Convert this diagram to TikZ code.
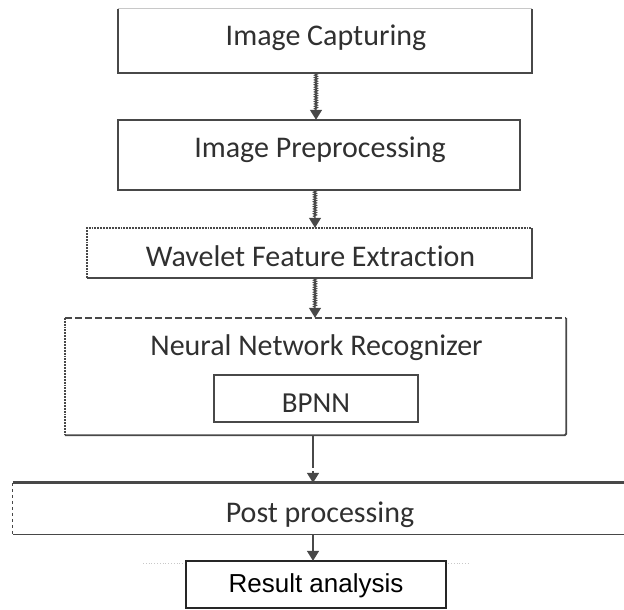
\documentclass[tikz,border=0pt]{standalone}
\usepackage{fontspec}
\setmainfont{Carlito}[Ligatures=CommonOff]
\newfontfamily\arialfont{Liberation Sans}
\usetikzlibrary{arrows.meta,decorations.pathmorphing}

\definecolor{edgegray}{RGB}{72,72,72}
\definecolor{textgray}{RGB}{48,48,48}
\definecolor{faintgray}{RGB}{200,200,200}

\begin{document}
\begin{tikzpicture}[x=1pt,y=-1pt,
  area/.style={draw=none, inner sep=0pt, minimum width=#1},
  frame/.style={draw=edgegray, line width=1.9pt},
  thinframe/.style={draw=edgegray, line width=1.1pt},
  lbl/.style={anchor=base, text=textgray, inner sep=0pt, font=\fontsize{30}{36}\selectfont},
  tipstyle/.style={-{Triangle[width=12pt,length=10pt]}},
  wavyflow/.style={draw=edgegray, line width=1.4pt, tipstyle, decorate,
    decoration={snake, amplitude=1.2pt, segment length=2.4pt, post length=10pt}},
  plainflow/.style={draw=edgegray, line width=1.6pt, tipstyle}
]
\useasboundingbox (0,0) rectangle (624,610);
\coordinate (axis) at (315,0);

% block outlines (positioned by centre, sized by width/height)
\node[area=414pt, minimum height=64pt] (cap) at (325,41) {};
\node[area=402pt, minimum height=70pt] (pre) at (319,155) {};
\node[area=445pt, minimum height=50pt] (wav) at (309.5,253) {};
\node[area=501pt, minimum height=117pt] (nn) at (315.5,376.5) {};
\node[area=204pt, minimum height=47pt] (bp) at (316,398.5) {};
\node[area=620pt, minimum height=51pt] (post) at (323,508.5) {};
\node[area=260pt, minimum height=47pt] (res) at (316,584.5) {};

% Image Capturing
\draw[faintgray, line width=1pt] (cap.north west) -- (cap.north east);
\draw[frame] (cap.north west) -- (cap.south west) -- (cap.south east) -- (cap.north east);
% Image Preprocessing
\draw[frame] (pre.north west) rectangle (pre.south east);
% Wavelet Feature Extraction: dotted top and left
\draw[frame, densely dotted] (wav.south west) -- (wav.north west) -- (wav.north east);
\draw[frame] (wav.north east) -- (wav.south east) -- (wav.south west);
% Neural Network Recognizer: dashed top, dotted left
\draw[frame, dash pattern=on 7pt off 3pt] (nn.north west) -- (nn.north east);
\draw[frame, densely dotted] (nn.north west) -- (nn.south west);
\draw[frame, rounded corners=1.5pt] (nn.north east) -- (nn.south east) -- (nn.south west);
\draw[frame] (bp.north west) rectangle (bp.south east);
% Post processing: heavy top, dashed left, light bottom
\draw[draw=edgegray, line width=2.8pt] (post.north west) -- (post.north east);
\draw[thinframe, dashed] (post.north west) -- (post.south west);
\draw[thinframe] (post.south west) -- (post.south east);
% faint dotted rule behind the last block
\coordinate (ruleL) at (143,563);
\coordinate (ruleR) at (470,563);
\draw[faintgray, line width=0.8pt, dotted] (ruleL) -- (ruleR);
% Result analysis
\draw[draw=black!85, line width=1.5pt, fill=white] (res.north west) rectangle (res.south east);

% labels
\node[lbl] (capT) at (326,46) {Image Capturing};
\node[lbl] (preT) at (320,157) {Image Preprocessing};
\node[lbl] (wavT) at (310.5,266) {Wavelet Feature Extraction};
\node[lbl] (nnT) at (316.5,355) {Neural Network Recognizer};
\node[lbl, font=\fontsize{29}{34}\selectfont] (bpT) at (316,412) {BPNN};
\node[lbl] (postT) at (320,522) {Post processing};
\node[anchor=base, inner sep=0pt, text=black, font=\arialfont\fontsize{26}{30}\selectfont] (resT) at (316,592) {Result analysis};

% connectors
\draw[wavyflow] ([xshift=1pt]cap.south -| axis) -- ([xshift=1pt]pre.north -| axis);
\draw[wavyflow] (pre.south -| axis) -- (wav.north -| axis);
\draw[wavyflow] (wav.south -| axis) -- (nn.north -| axis);
\draw[plainflow, dash pattern=on 33pt off 3pt] ([xshift=-2pt]nn.south -| axis) -- ([xshift=-2pt]post.north -| axis);
\draw[plainflow] ([xshift=-2pt]post.south -| axis) -- ([xshift=-2pt]res.north -| axis);
\end{tikzpicture}
\end{document}
